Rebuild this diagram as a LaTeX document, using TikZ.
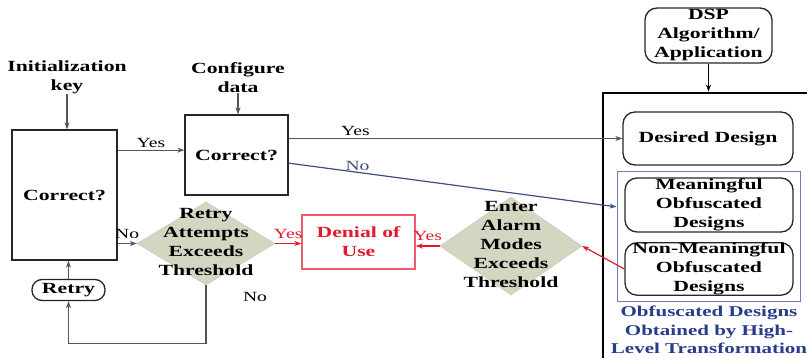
\documentclass[tikz,border=0pt]{standalone}
\usepackage{fontspec}
\setmainfont[FakeStretch=1.4]{Liberation Serif}
\usetikzlibrary{shapes.geometric,arrows.meta,calc}
\definecolor{linegray}{RGB}{85,85,85}
\definecolor{nobl}{RGB}{60,80,125}
\definecolor{redc}{RGB}{225,25,45}
\definecolor{redbox}{RGB}{240,90,110}
\definecolor{obfb}{RGB}{110,125,175}
\definecolor{capb}{RGB}{40,60,140}
\definecolor{diaf}{RGB}{212,214,194}
\begin{document}
\begin{tikzpicture}[x=1pt,y=-1pt,
  txt/.style={font=\fontsize{15.5}{19}\selectfont\bfseries, align=center, inner sep=0},
  box/.style={draw=black!85, line width=1.3pt, inner sep=0, txt},
  rbox/.style={box, rounded corners=12pt},
  lbl/.style={font=\fontsize{14}{16}\selectfont, inner sep=0},
  arr/.style={-{Stealth[length=7pt,width=5pt]}, line width=1.2pt, draw=linegray},
  dia/.style={diamond, fill=diaf, draw=diaf!80!gray, inner sep=0}
]
\useasboundingbox (0,0) rectangle (807,358);
\clip (0,0) rectangle (807,358);

% left part
\node[txt] (initkey) at (67,77) {Initialization\\key};
\node[box, minimum width=105, minimum height=130] (box1) at (64.5,195) {Correct?};
\node[txt] (cfg) at (238,77.5) {Configure\\data};
\node[box, minimum width=103, minimum height=80] (box2) at (236.5,155) {Correct?};
\node[box, rounded corners=10pt, minimum width=73, minimum height=21] (retry) at (68.5,290) {Retry};

% diamonds
\node[dia, minimum width=138, minimum height=83] (retryd) at (206,243.5) {};
\node[txt] (retryt) at (206,242.5) {Retry\\Attempts\\Exceeds\\Threshold};
\node[dia, minimum width=142, minimum height=98] (alarmd) at (511,246) {};
\node[txt] (alarmt) at (511,245) {Enter\\Alarm\\Modes\\Exceeds\\Threshold};

\node[draw=redbox, line width=1.4pt, minimum width=113, minimum height=54, inner sep=0, txt, text=redc] (denial) at (358.5,242) {Denial of\\Use};

% right part
\node[rbox, minimum width=127, minimum height=55] (dsp) at (708.5,35.5) {DSP\\Algorithm/\\Application};
\node[draw=black, line width=2.8pt, minimum width=212, minimum height=277, inner sep=0] (frame) at (709,231.5) {};
\node[rbox, minimum width=170, minimum height=53] (desired) at (708,138.5) {Desired Design};
\node[draw=obfb, line width=1pt, minimum width=183, minimum height=130, inner sep=0] (obf) at (708.5,237) {};
\node[rbox, minimum width=168, minimum height=54] (mean) at (709,205) {Meaningful\\Obfuscated\\Designs};
\node[rbox, minimum width=168, minimum height=52] (nonmean) at (709,269) {Non-Meaningful\\Obfuscated\\Designs};
\node[txt, font=\fontsize{15}{18.5}\selectfont\bfseries, text=capb] (cap) at (709,330) {Obfuscated Designs\\Obtained by High-\\Level Transformation};

% connectors
\draw[arr] (initkey.south) -- (initkey.south |- box1.north);
\draw[arr] (cfg.south) -- (cfg.south |- box2.north);
\coordinate (y1) at ($(box2.north west)!.44!(box2.south west)$);
\draw[arr] (box1.east |- y1) -- (y1) node[lbl, midway, above=2pt] {Yes};
\draw[arr] (box2.east |- desired.west) -- (desired.west) node[lbl, pos=.2, above=2pt] {Yes};
\coordinate (n1) at ($(box2.north east)!.6!(box2.south east)$);
\coordinate (n2) at ($(obf.north west)!.27!(obf.south west)$);
\draw[arr, draw=nobl] (n1) -- (n2) node[lbl, text=nobl, pos=.21, above=1pt] {No};
\draw[arr, draw=black] (dsp.south) -- (dsp.south |- frame.north);

\draw[arr] (box1.east |- retryd.west) -- (retryd.west) node[lbl, midway, above=4pt] {No};
\draw[arr, draw=redc] (retryd.east) -- (retryd.east -| denial.west) node[lbl, text=redc, midway, above=4pt] {Yes};
\draw[arr, draw=redc] (alarmd.west) -- (alarmd.west -| denial.east) node[lbl, text=redc, midway, above=5pt] {Yes};
\draw[arr, draw=redc] (nonmean.west) -- (alarmd.east);
\draw[arr] (retryd.south) -- ++(0,58) -| (retry.south);
\node[lbl] (nolbl) at (255,297) {No};
\draw[arr] (retry.north) -- (retry.north |- box1.south);
\end{tikzpicture}
\end{document}
